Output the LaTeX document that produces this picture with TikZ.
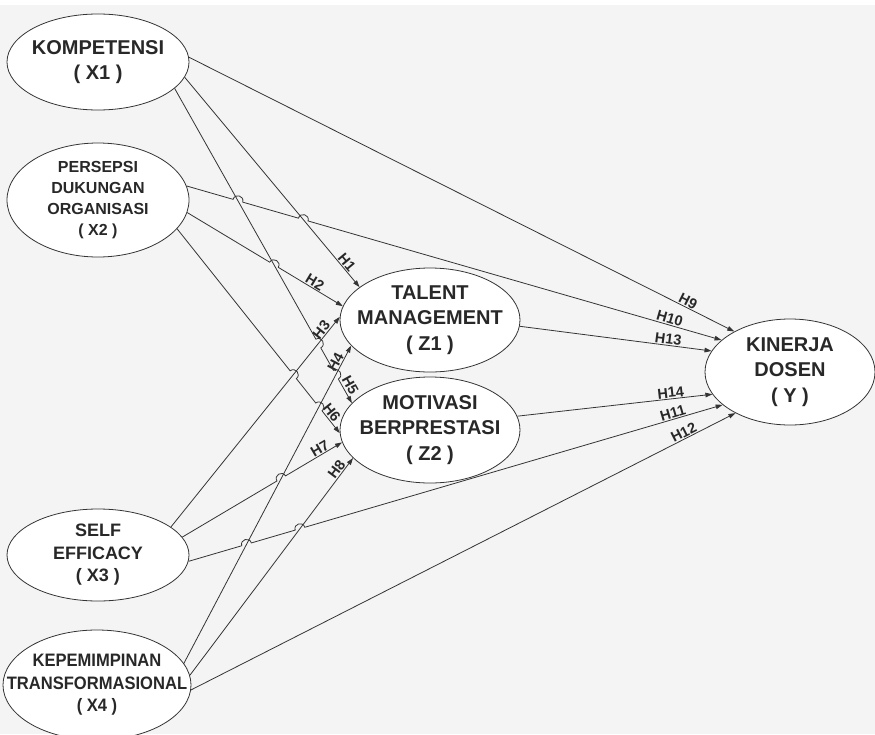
\documentclass[tikz,border=0pt]{standalone}
\usepackage{fontspec}
\setmainfont{Liberation Sans}
\usetikzlibrary{shapes.geometric,arrows.meta,calc,intersections}
\definecolor{bgc}{RGB}{244,244,244}
\definecolor{ln}{RGB}{52,52,52}
\definecolor{tx}{RGB}{40,40,40}
\begin{document}
\begin{tikzpicture}[x=1pt,y=1pt,
  var/.style={ellipse, draw=ln, line width=0.8pt, fill=white, inner sep=0pt},
  vt/.style={align=center, text=tx, font=\bfseries\fontsize{20}{25.5}\selectfont},
  vs/.style={align=center, text=tx, font=\bfseries\fontsize{16}{21}\selectfont},
  vm/.style={align=center, text=tx, font=\bfseries\fontsize{18}{22.5}\selectfont},
  conn/.style={draw=ln, line width=0.8pt, -{Triangle[length=7pt,width=4.6pt]}},
  hl/.style={font=\bfseries\fontsize{14.5}{14.5}\selectfont, text=tx, inner sep=1pt, sloped, above},
  hop/.style={bend left=90, looseness=1.7}]

\fill[bgc] (0,0) rectangle (875,-734);
\fill[white] (0,0) rectangle (875,-5);
\useasboundingbox (0,0) rectangle (875,-734);

% variables
\node[var, minimum width=182pt, minimum height=96pt, label={[vt]center:KOMPETENSI\\( X1 )}] (x1) at (98,-62) {};
\node[var, minimum width=182pt, minimum height=114pt, label={[vs]center:PERSEPSI\\DUKUNGAN\\ORGANISASI\\( X2 )}] (x2) at (98,-200) {};
\node[var, minimum width=182pt, minimum height=92pt, label={[vm]center:SELF\\EFFICACY\\( X3 )}] (x3) at (98,-555) {};
\node[var, minimum width=188pt, minimum height=110pt, label={[vm]center:\scalebox{0.92}[1]{KEPEMIMPINAN}\\\scalebox{0.92}[1]{TRANSFORMASIONAL}\\\scalebox{0.92}[1]{( X4 )}}] (x4) at (97,-685) {};
\node[var, minimum width=180pt, minimum height=104pt, label={[vt]center:TALENT\\MANAGEMENT\\( Z1 )}] (z1) at (430,-320) {};
\node[var, minimum width=180pt, minimum height=106pt, label={[vt]center:MOTIVASI\\BERPRESTASI\\( Z2 )}] (z2) at (430,-430) {};
\node[var, minimum width=170pt, minimum height=106pt, label={[vt]center:KINERJA\\DOSEN\\( Y )}] (y) at (790,-372) {};

% straight reference paths with labels
\path[name path=p1] (x1.-10) -- node (l1) [hl, pos=0.90] {H1} (z1.155);
\path[name path=p2] (x2.-8) -- node (l2) [hl, pos=0.80] {H2} (z1.171);
\path[name path=p3] (x3.21) -- node (l3) [hl, pos=0.92] {H3} (z1.178);
\path[name path=p4] (x4.14) -- node (l4) [hl, pos=0.94] {H4} (z1.198);
\path[name path=p5] (x1.-19) -- node (l5) [hl, pos=0.955, inner sep=2pt] {H5} (z2.161);
\path[name path=p6] (x2.-20) -- node (l6) [hl, pos=0.92] {H6} (z2.182);
\path[name path=p7] (x3.12) -- node (l7) [hl, pos=0.88] {H7} (z2.188);
\path[name path=p8] (x4.6) -- node (l8) [hl, pos=0.93] {H8} (z2.200);
\path[name path=p9] (x1.3) -- node (l9) [hl, pos=0.91] {H9} (y.144);
\path[name path=p10] (x2.9) -- node (l10) [hl, pos=0.90] {H10} (y.155);
\path[name path=p11] (x3.-4) -- node (l11) [hl, pos=0.91] {H11} (y.206);
\path[name path=p12] (x4.-3) -- node (l12) [hl, pos=0.91] {H12} (y.217);
\path[name path=p13] (z1.-4) -- node (l13) [hl, pos=0.77] {H13} (y.165);
\path[name path=p14] (z2.9) -- node (l14) [hl, pos=0.79] {H14} (y.196);

% crossings
\path[name intersections={of=p10 and p5, by=c1}];
\path[name intersections={of=p10 and p1, by=c2}];
\path[name intersections={of=p2 and p5, by=c3}];
\path[name intersections={of=p5 and p3, by=c4}];
\path[name intersections={of=p5 and p4, by=c5}];
\path[name intersections={of=p6 and p3, by=c6}];
\path[name intersections={of=p6 and p4, by=c7}];
\path[name intersections={of=p7 and p4, by=c8}];
\path[name intersections={of=p11 and p4, by=c9}];
\path[name intersections={of=p11 and p8, by=c10}];

% straight connectors
\draw[conn] (x1.-10) -- (z1.155);
\draw[conn] (x3.21) -- (z1.178);
\draw[conn] (x4.14) -- (z1.198);
\draw[conn] (x4.6) -- (z2.200);
\draw[conn] (x1.3) -- (y.144);
\draw[conn] (x4.-3) -- (y.217);
\draw[conn] (z1.-4) -- (y.165);
\draw[conn] (z2.9) -- (y.196);

% connectors with line hops
\draw[conn] (x2.9) -- ($(c1)!5pt!(x2.9)$) to[hop] ($(c1)!5pt!(y.155)$)
  -- ($(c2)!5pt!(x2.9)$) to[hop] ($(c2)!5pt!(y.155)$) -- (y.155);
\draw[conn] (x2.-8) -- ($(c3)!5pt!(x2.-8)$) to[hop] ($(c3)!5pt!(z1.171)$) -- (z1.171);
\draw[conn] (x1.-19) -- ($(c4)!5pt!(x1.-19)$) to[hop] ($(c4)!5pt!(z2.161)$)
  -- ($(c5)!5pt!(x1.-19)$) to[hop] ($(c5)!5pt!(z2.161)$) -- (z2.161);
\draw[conn] (x2.-20) -- ($(c6)!5pt!(x2.-20)$) to[hop] ($(c6)!5pt!(z2.182)$)
  -- ($(c7)!5pt!(x2.-20)$) to[hop] ($(c7)!5pt!(z2.182)$) -- (z2.182);
\draw[conn] (x3.12) -- ($(c8)!5pt!(x3.12)$) to[hop] ($(c8)!5pt!(z2.188)$) -- (z2.188);
\draw[conn] (x3.-4) -- ($(c9)!5pt!(x3.-4)$) to[hop] ($(c9)!5pt!(y.206)$)
  -- ($(c10)!5pt!(x3.-4)$) to[hop] ($(c10)!5pt!(y.206)$) -- (y.206);
\end{tikzpicture}
\end{document}
